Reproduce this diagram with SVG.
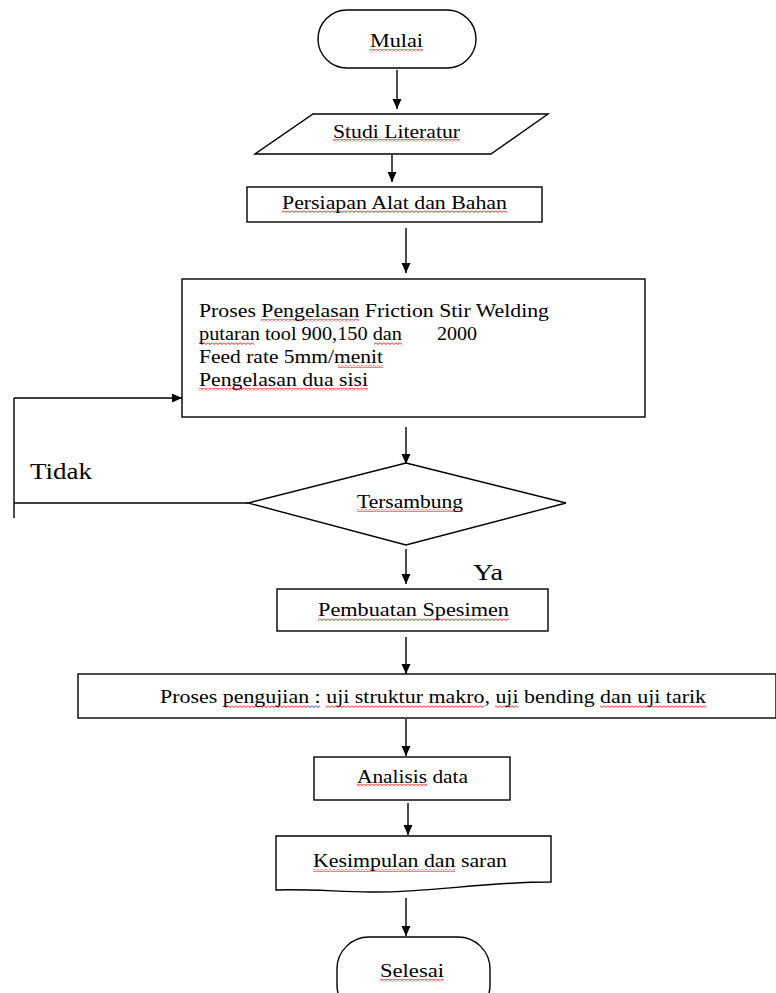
<svg xmlns="http://www.w3.org/2000/svg" width="776" height="993" viewBox="0 0 776 993">
<style>
.s{fill:#fff;stroke:#000;stroke-width:1.4}
.t{font-family:"Liberation Serif","Times New Roman",serif;font-size:19px;fill:#000}
.b{font-family:"Liberation Serif","Times New Roman",serif;font-size:24px;fill:#000}
.c{fill:none;stroke:#000;stroke-width:1.4}
.w{fill:url(#sq)}
.wb{fill:url(#sqb)}
</style>
<defs>
<marker id="ah" markerWidth="10" markerHeight="10" refX="10" refY="4.5" orient="auto" markerUnits="userSpaceOnUse">
<path d="M0,0 L10,4.5 L0,9 z" fill="#000"/>
</marker>
<pattern id="sq" width="4" height="3" patternUnits="userSpaceOnUse">
<path d="M0,0.5 L2,2.5 L4,0.5" fill="none" stroke="#e00" stroke-width="1"/>
</pattern>
<pattern id="sqb" width="4" height="3" patternUnits="userSpaceOnUse">
<path d="M0,0.5 L2,2.5 L4,0.5" fill="none" stroke="#22f" stroke-width="1"/>
</pattern>
</defs>

<g id="connectors">
<line class="c" x1="397" y1="70" x2="397" y2="109" marker-end="url(#ah)"/>
<line class="c" x1="392" y1="155" x2="392" y2="182" marker-end="url(#ah)"/>
<line class="c" x1="406" y1="228" x2="406" y2="273" marker-end="url(#ah)"/>
<line class="c" x1="406" y1="427" x2="406" y2="464" marker-end="url(#ah)"/>
<polyline class="c" points="248,503 14,503"/>
<line class="c" x1="14" y1="518" x2="14" y2="398"/>
<line class="c" x1="14" y1="398" x2="182" y2="398" marker-end="url(#ah)"/>
<line class="c" x1="406" y1="549" x2="406" y2="584" marker-end="url(#ah)"/>
<line class="c" x1="406" y1="637" x2="406" y2="674" marker-end="url(#ah)"/>
<line class="c" x1="406" y1="719" x2="406" y2="756" marker-end="url(#ah)"/>
<line class="c" x1="408" y1="803" x2="408" y2="835" marker-end="url(#ah)"/>
<line class="c" x1="406" y1="898" x2="406" y2="936" marker-end="url(#ah)"/>
<text class="b" x="30" y="479" textLength="62" lengthAdjust="spacingAndGlyphs">Tidak</text>
<text class="b" x="473" y="580" textLength="30" lengthAdjust="spacingAndGlyphs">Ya</text>
</g>

<g id="mulai">
<rect class="s" x="318" y="10" width="158" height="58" rx="29"/>
<rect class="w" x="370" y="49" width="53" height="3"/>
<text class="t" x="370" y="47" textLength="53" lengthAdjust="spacingAndGlyphs">Mulai</text>
</g>

<g id="studi">
<polygon class="s" points="313,114 548,114 491,154 255,154"/>
<rect class="w" x="333" y="139" width="127" height="3"/>
<text class="t" x="333" y="138" textLength="127" lengthAdjust="spacingAndGlyphs">Studi Literatur</text>
</g>

<g id="persiapan">
<rect class="s" x="247" y="187" width="295" height="35"/>
<rect class="w" x="282" y="210" width="225" height="3"/>
<text class="t" x="282" y="209" textLength="225" lengthAdjust="spacingAndGlyphs">Persiapan Alat dan Bahan</text>
</g>

<g id="proses">
<rect class="s" x="182" y="279" width="463" height="138"/>
<rect class="w" x="261" y="319" width="98" height="3"/>
<rect class="w" x="199" y="342" width="55" height="3"/>
<rect class="w" x="374" y="342" width="28" height="3"/>
<rect class="w" x="338" y="365" width="45" height="3"/>
<rect class="w" x="199" y="388" width="169" height="3"/>
<text class="t" x="199" y="317" textLength="350" lengthAdjust="spacingAndGlyphs">Proses Pengelasan Friction Stir Welding</text>
<text class="t" x="199" y="340" textLength="203" lengthAdjust="spacingAndGlyphs">putaran tool 900,150 dan</text>
<text class="t" x="437" y="340" textLength="40" lengthAdjust="spacingAndGlyphs">2000</text>
<text class="t" x="199" y="363" textLength="184" lengthAdjust="spacingAndGlyphs">Feed rate 5mm/menit</text>
<text class="t" x="199" y="386" textLength="169" lengthAdjust="spacingAndGlyphs">Pengelasan dua sisi</text>
</g>

<g id="tersambung">
<polygon class="s" points="406,463 566,503 406,545 248,503"/>
<rect class="w" x="357" y="509" width="106" height="3"/>
<text class="t" x="357" y="508" textLength="106" lengthAdjust="spacingAndGlyphs">Tersambung</text>
</g>

<g id="pembuatan">
<rect class="s" x="277" y="589" width="271" height="42"/>
<rect class="w" x="318" y="618" width="191" height="3"/>
<text class="t" x="318" y="616" textLength="191" lengthAdjust="spacingAndGlyphs">Pembuatan Spesimen</text>
</g>

<g id="pengujian">
<rect class="s" x="78" y="674" width="698" height="44"/>
<rect class="w" x="223" y="705" width="86" height="3"/>
<rect class="wb" x="309" y="705" width="11" height="3"/>
<rect class="w" x="326" y="705" width="158" height="3"/>
<rect class="w" x="495" y="705" width="23" height="3"/>
<rect class="w" x="600" y="705" width="106" height="3"/>
<text class="t" x="160" y="703" textLength="546" lengthAdjust="spacingAndGlyphs">Proses pengujian : uji struktur makro, uji bending dan uji tarik</text>
</g>

<g id="analisis">
<rect class="s" x="314" y="757" width="196" height="43"/>
<rect class="w" x="357" y="784" width="70" height="3"/>
<text class="t" x="357" y="783" textLength="111" lengthAdjust="spacingAndGlyphs">Analisis data</text>
</g>

<g id="kesimpulan">
<path class="s" d="M276,836 H551 V882 C480,882 430,893 370,892 C330,891 300,889 276,890 Z"/>
<rect class="w" x="313" y="869" width="142" height="3"/>
<text class="t" x="313" y="867" textLength="194" lengthAdjust="spacingAndGlyphs">Kesimpulan dan saran</text>
</g>

<g id="selesai">
<rect class="s" x="337" y="937" width="153" height="80" rx="32"/>
<rect class="w" x="380" y="979" width="64" height="3"/>
<text class="t" x="380" y="977" textLength="64" lengthAdjust="spacingAndGlyphs">Selesai</text>
</g>
</svg>
